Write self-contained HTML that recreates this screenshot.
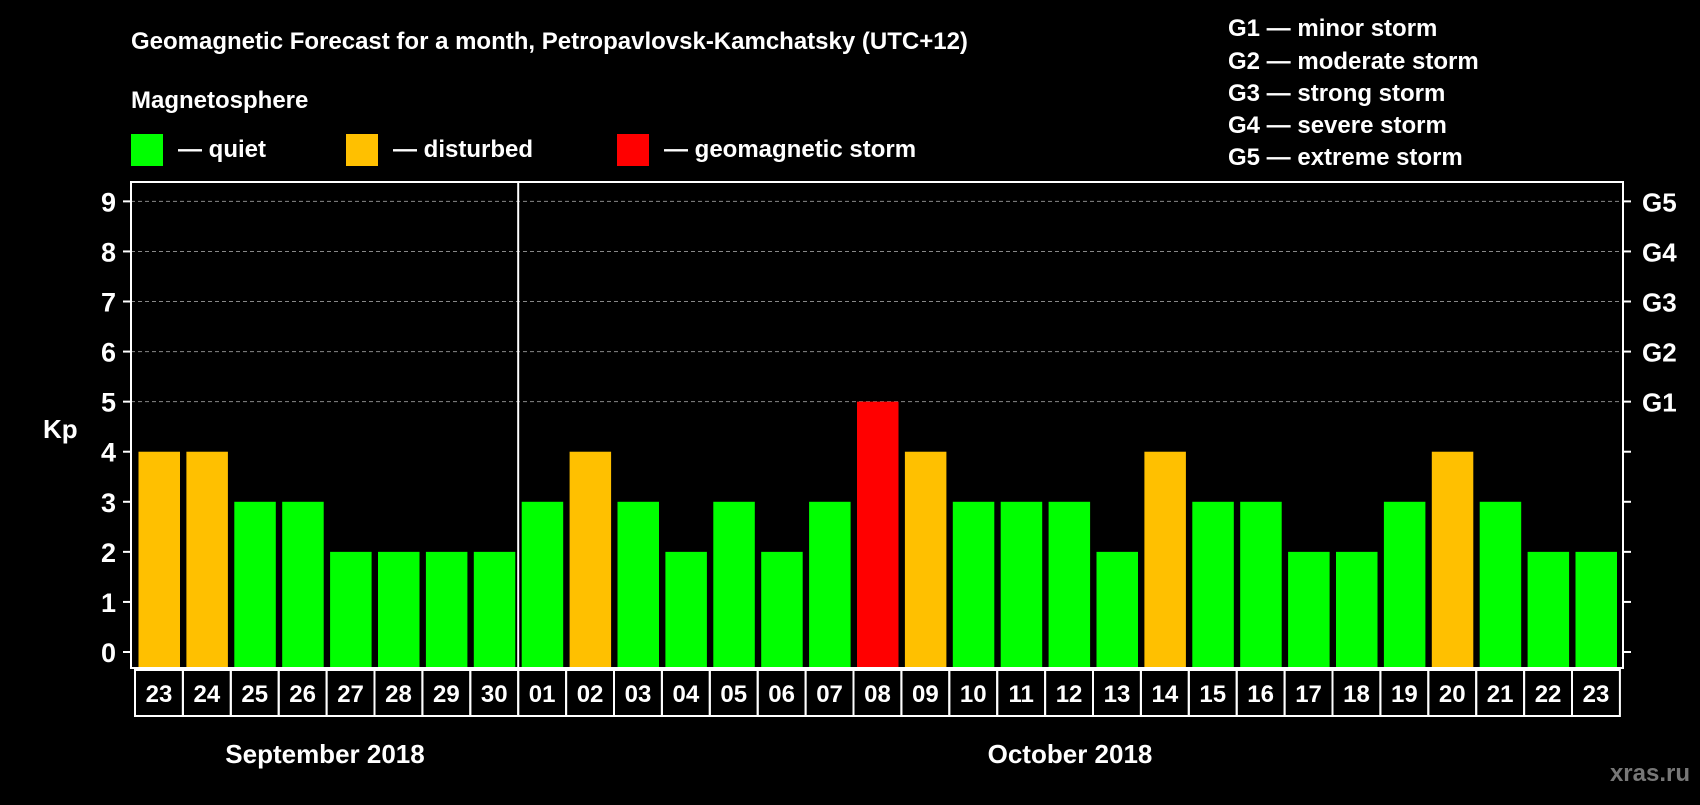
<!DOCTYPE html>
<html><head><meta charset="utf-8"><style>
body{margin:0;background:#000;width:1700px;height:800px;overflow:hidden}
text{font-family:"Liberation Sans",Arial,sans-serif;font-weight:bold;fill:#fff}
</style></head><body>
<svg id="c" width="1700" height="800" xmlns="http://www.w3.org/2000/svg">
<text x="131" y="49" font-size="24">Geomagnetic Forecast for a month, Petropavlovsk-Kamchatsky (UTC+12)</text>
<text x="131" y="108" font-size="24">Magnetosphere</text>
<g><rect x="131" y="134" width="32" height="32" fill="#00ff00"/><text x="178" y="157" font-size="24">— quiet</text></g>
<g><rect x="346" y="134" width="32" height="32" fill="#ffc000"/><text x="393" y="157" font-size="24">— disturbed</text></g>
<g><rect x="617" y="134" width="32" height="32" fill="#ff0000"/><text x="664" y="157" font-size="24">— geomagnetic storm</text></g>
<g font-size="24">
<text x="1228" y="36" font-size="24">G1 — minor storm</text>
<text x="1228" y="69" font-size="24">G2 — moderate storm</text>
<text x="1228" y="101" font-size="24">G3 — strong storm</text>
<text x="1228" y="133" font-size="24">G4 — severe storm</text>
<text x="1228" y="165" font-size="24">G5 — extreme storm</text>
</g>
<text x="43" y="438" font-size="26">Kp</text>
<g id="grid"></g><g id="bars"></g><g id="axes"></g>
<text x="325" y="763" font-size="26" text-anchor="middle">September 2018</text>
<text x="1070" y="763" font-size="26" text-anchor="middle">October 2018</text>
<text x="1690" y="781" font-size="24" text-anchor="end" style="fill:#777">xras.ru</text>
</svg>
<script>
const days=["23","24","25","26","27","28","29","30","01","02","03","04","05","06","07","08","09","10","11","12","13","14","15","16","17","18","19","20","21","22","23"];
const kp=[4,4,3,3,2,2,2,2,3,4,3,2,3,2,3,5,4,3,3,3,2,4,3,3,2,2,3,4,3,2,2];
const yTicks=[0,1,2,3,4,5,6,7,8,9];
const gLabels={5:"G1",6:"G2",7:"G3",8:"G4",9:"G5"};
const NS="http://www.w3.org/2000/svg";
const L=131,R=1623,T=182,B=668,x0=135,pitch=47.9,bw=41.5;
const y=v=>652-v*50.07;
const xs=i=>x0+i*pitch;
function mk(t,a,p){const e=document.createElementNS(NS,t);for(const k in a)e.setAttribute(k,a[k]);p.appendChild(e);return e;}
const grid=document.getElementById('grid'),bars=document.getElementById('bars'),axes=document.getElementById('axes');
yTicks.forEach(v=>{
 if(v>=5){const g=mk('line',{x1:L,x2:R,y1:y(v),y2:y(v),stroke:'#888','stroke-dasharray':'4,3'},grid);
 
 }
 mk('line',{x1:L-8,x2:L,y1:y(v),y2:y(v),stroke:'#fff','stroke-width':2},axes);
 mk('line',{x1:R,x2:R+8,y1:y(v),y2:y(v),stroke:'#fff','stroke-width':2},axes);
 const t=mk('text',{x:116,y:y(v)+10,'font-size':27,'text-anchor':'end'},axes);t.textContent=v;
 
 
 if(gLabels[v]){const g=mk('text',{x:1642,y:y(v)+10,'font-size':26},axes);g.textContent=gLabels[v];
 
 }
});
kp.forEach((v,i)=>{
 const c=v>=5?'#ff0000':v>=4?'#ffc000':'#00ff00';
 const r=mk('rect',{x:xs(i)+3.5,y:y(v),width:bw,height:B-1-y(v),fill:c},bars);
 
 
 const b=mk('rect',{x:xs(i),y:670,width:pitch,height:46,fill:'none',stroke:'#fff','stroke-width':2},axes);
 
 
 const t=mk('text',{x:xs(i)+pitch/2,y:702,'font-size':24,'text-anchor':'middle'},axes);t.textContent=days[i];
 
 
});
const f=mk('rect',{x:L,y:T,width:R-L,height:B-T,fill:'none',stroke:'#fff','stroke-width':2},axes);


const s=mk('line',{x1:xs(8),x2:xs(8),y1:T,y2:B,stroke:'#fff','stroke-width':2},axes);


</script>
</body></html>
